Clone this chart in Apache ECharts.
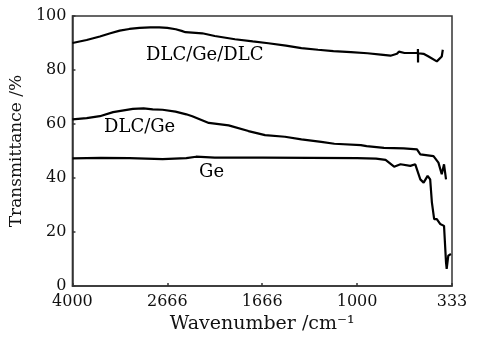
<!DOCTYPE html>
<html>
<head>
<meta charset="utf-8">
<script src="https://cdn.jsdelivr.net/npm/echarts@6/dist/echarts.min.js"></script>
<style>
  html, body { margin: 0; padding: 0; background: #fff; }
  #main { width: 482px; height: 339px; }
</style>
</head>
<body>
<div id="main"></div>
<script>
// x positions are in tick-slot units: 0 = 4000 cm-1 ... 4 = 333 cm-1
var tickLabels = ['4000', '2666', '1666', '1000', '333'];

var dlcGeDlc = [
  [0, 90.0], [0.15, 91.1], [0.289, 92.4], [0.40, 93.6], [0.498, 94.6], [0.6, 95.2],
  [0.707, 95.6], [0.82, 95.8], [0.916, 95.8], [1.0, 95.6], [1.089, 95.1], [1.15, 94.5],
  [1.191, 94.0], [1.368, 93.6], [1.5, 92.6], [1.713, 91.4], [1.9, 90.6], [2.065, 89.9],
  [2.25, 89.0], [2.413, 88.1], [2.587, 87.5], [2.75, 87.0], [2.935, 86.6], [3.109, 86.2],
  [3.25, 85.7], [3.352, 85.3], [3.42, 86.0], [3.44, 86.8], [3.50, 86.3], [3.60, 86.3],
  [3.640, 86.4], [3.641, 87.8], [3.642, 82.8], [3.643, 86.2], [3.70, 86.0], [3.753, 85.0],
  [3.840, 83.2], [3.892, 85.0], [3.903, 87.5]
];

var dlcGe = [
  [0, 61.7], [0.15, 62.2], [0.289, 62.9], [0.428, 64.4], [0.637, 65.6], [0.75, 65.8],
  [0.846, 65.4], [0.95, 65.3], [1.086, 64.6], [1.2, 63.6], [1.263, 62.9], [1.437, 60.4],
  [1.646, 59.5], [1.855, 57.4], [2.03, 55.9], [2.239, 55.3], [2.413, 54.3], [2.622, 53.4],
  [2.760, 52.7], [3.039, 52.2], [3.10, 51.8], [3.283, 51.2], [3.491, 51.0], [3.631, 50.6],
  [3.666, 48.8], [3.805, 48.1], [3.857, 45.7], [3.892, 41.4], [3.916, 45.1], [3.937, 39.5]
];

var ge = [
  [0, 47.3], [0.3, 47.5], [0.6, 47.4], [0.95, 47.0], [1.2, 47.4], [1.303, 47.9],
  [1.5, 47.6], [2.0, 47.6], [2.5, 47.5], [3.0, 47.4], [3.2, 47.2], [3.30, 46.7],
  [3.39, 44.2], [3.457, 45.1], [3.561, 44.5], [3.613, 45.1], [3.666, 39.5], [3.701, 38.3],
  [3.743, 40.8], [3.770, 39.5], [3.788, 31.0], [3.812, 24.8], [3.840, 24.8], [3.875, 23.0],
  [3.916, 22.3], [3.937, 8.8], [3.944, 6.4], [3.961, 11.3], [3.989, 11.9]
];

var chartDom = document.getElementById('main');
var myChart = echarts.init(chartDom, null, { renderer: 'canvas' });
var font = 'DejaVu Serif';

function lineSeries(name, data) {
  return {
    name: name,
    type: 'line',
    data: data,
    showSymbol: false,
    smooth: false,
    lineStyle: { color: '#000', width: 2.2 },
    animation: false
  };
}

var option = {
  backgroundColor: '#fff',
  animation: false,
  grid: {
    left: 69, right: 30, top: 16, bottom: 52,
    show: true, borderColor: '#333', borderWidth: 1.5
  },
  xAxis: {
    type: 'value',
    min: 0, max: 4, interval: 1,
    name: 'Wavenumber /cm\u207B\u00B9',
    nameLocation: 'middle',
    nameGap: 27,
    nameTextStyle: { fontFamily: font, fontSize: 19, color: '#111' },
    axisLine: { lineStyle: { color: '#333', width: 1.5 } },
    axisTick: { inside: true, length: 3, lineStyle: { color: '#333', width: 1.5 } },
    splitLine: { show: false },
    axisLabel: {
      margin: 8,
      fontFamily: font, fontSize: 16, color: '#111',
      formatter: function (v) { return tickLabels[Math.round(v)]; }
    }
  },
  yAxis: {
    type: 'value',
    min: 0, max: 100, interval: 20,
    name: 'Transmittance /%',
    nameLocation: 'middle',
    nameGap: 40,
    nameTextStyle: { fontFamily: font, fontSize: 17, color: '#111' },
    axisLine: { lineStyle: { color: '#333', width: 1.5 } },
    axisTick: { inside: true, length: 3, lineStyle: { color: '#333', width: 1.5 } },
    splitLine: { show: false },
    axisLabel: { margin: 6, fontFamily: font, fontSize: 16, color: '#111' }
  },
  graphic: [
    { type: 'text', left: 146, top: 46, style: { text: 'DLC/Ge/DLC', font: '18px "DejaVu Serif"', fill: '#000' } },
    { type: 'text', left: 104, top: 118, style: { text: 'DLC/Ge', font: '18px "DejaVu Serif"', fill: '#000' } },
    { type: 'text', left: 199, top: 163, style: { text: 'Ge', font: '18px "DejaVu Serif"', fill: '#000' } }
  ],
  series: [
    lineSeries('DLC/Ge/DLC', dlcGeDlc),
    lineSeries('DLC/Ge', dlcGe),
    lineSeries('Ge', ge)
  ]
};

option && myChart.setOption(option, true);
window.onresize = function () {
  myChart.resize();
};
</script>
</body>
</html>
